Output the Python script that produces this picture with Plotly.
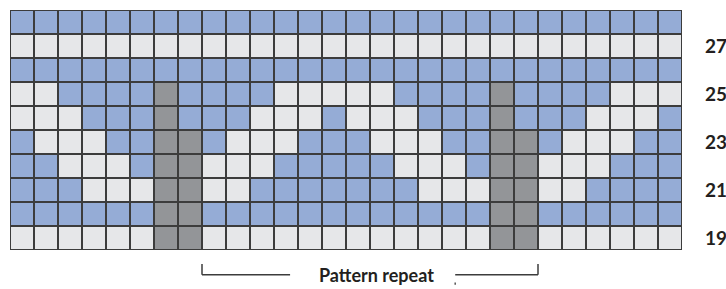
import plotly.graph_objects as go

# Row numbers (top to bottom) and chart rows written top to bottom
row_numbers = [28, 27, 26, 25, 24, 23, 22, 21, 20, 19]
# B = blue stitch, L = light stitch, D = dark (steek) stitch
row_stitches = [
    "BBBBBBBBBBBBBBBBBBBBBBBBBBBB",
    "LLLLLLLLLLLLLLLLLLLLLLLLLLLL",
    "BBBBBBBBBBBBBBBBBBBBBBBBBBBB",
    "LLBBBBDBBBBLLLLLBBBBDBBBBLLL",
    "LLLBBBDBBBLLLBLLLBBBDBBBLLLB",
    "BLLLBBDDBLLLBBBLLLBBDDBLLLBB",
    "BBLLLBDDLLLBBBBBLLLBDDLLLBBB",
    "BBBLLLDDLLBBBBBBBLLLDDLLBBBB",
    "BBBBBBDDBBBBBBBBBBBBDDBBBBBB",
    "LLLLLLDDLLLLLLLLLLLLDDLLLLLL",
]
labelled_rows = [19, 21, 23, 25, 27]
repeat_start_col = 8   # first column of the repeat bracket
repeat_end_col = 21    # last column of the repeat bracket
repeat_label = "Pattern repeat"

code = {"L": 0, "B": 1, "D": 2}
z = [[code[c] for c in row] for row in row_stitches]
ncols = len(row_stitches[0])
cols = list(range(ncols))

LIGHT = "#e6e7e9"
BLUE = "#95acd6"
DARK = "#939598"
GRID = "#3c3c3c"

fig = go.Figure(
    go.Heatmap(
        z=z,
        x=cols,
        y=row_numbers,
        zmin=0,
        zmax=2,
        colorscale=[
            [0, LIGHT], [1 / 3, LIGHT],
            [1 / 3, BLUE], [2 / 3, BLUE],
            [2 / 3, DARK], [1, DARK],
        ],
        showscale=False,
        xgap=2,
        ygap=2,
        hoverinfo="skip",
    )
)

fig.update_layout(
    width=726,
    height=289,
    margin=dict(l=10, r=44, t=10, b=39, autoexpand=False),
    plot_bgcolor=GRID,
    paper_bgcolor="white",
    showlegend=False,
)
fig.update_xaxes(
    range=[-0.5, ncols - 0.5],
    showgrid=False,
    zeroline=False,
    showticklabels=False,
    ticks="",
    showline=False,
    fixedrange=True,
)
fig.update_yaxes(
    range=[min(row_numbers) - 0.5, max(row_numbers) + 0.5],
    side="right",
    tickvals=labelled_rows,
    ticktext=[str(v) for v in labelled_rows],
    ticks="",
    ticklabelstandoff=22,
    tickfont=dict(family="Lato", size=19, color="#231f20", weight="bold"),
    showgrid=False,
    zeroline=False,
    showline=False,
    automargin=False,
    fixedrange=True,
)

# Border around the grid
fig.add_shape(
    type="rect", xref="x", yref="y",
    x0=-0.5, x1=ncols - 0.5,
    y0=min(row_numbers) - 0.5, y1=max(row_numbers) + 0.5,
    line=dict(color=GRID, width=2),
    layer="above",
)

# Pattern repeat bracket
xl = repeat_start_col - 0.5
xr = repeat_end_col + 0.5
y_top = -0.058
y_bot = -0.103
line_style = dict(color="#3c3c3c", width=1.5)
fig.add_shape(type="line", xref="x", yref="paper", x0=xl, x1=xl, y0=y_top, y1=y_bot, line=line_style)
fig.add_shape(type="line", xref="x", yref="paper", x0=xl, x1=11.17, y0=y_bot, y1=y_bot, line=line_style)
fig.add_shape(type="line", xref="x", yref="paper", x0=18.05, x1=xr, y0=y_bot, y1=y_bot, line=line_style)
fig.add_shape(type="line", xref="x", yref="paper", x0=xr, x1=xr, y0=y_top, y1=y_bot, line=line_style)
fig.add_shape(type="line", xref="x", yref="paper", x0=18.05, x1=18.05, y0=-0.135, y1=-0.145,
              line=dict(color="#555555", width=1.5))

fig.add_annotation(
    x=14.75, y=y_bot, xref="x", yref="paper",
    text="<b>" + repeat_label + "</b>",
    showarrow=False,
    xanchor="center", yanchor="middle",
    font=dict(family="Lato", size=18, color="#231f20"),
)

fig.write_html(
    "out.html",
    config={"displayModeBar": False, "staticPlot": True},
    post_script="document.body.style.margin='0px';document.body.style.overflow='hidden';",
)
